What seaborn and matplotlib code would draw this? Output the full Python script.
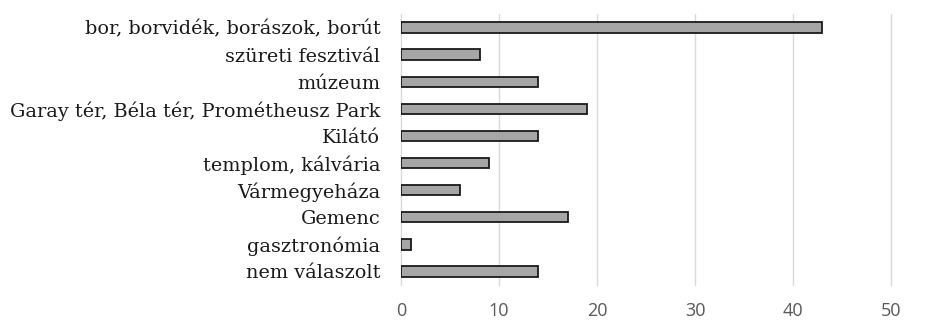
import matplotlib
matplotlib.use("Agg")
import matplotlib.pyplot as plt
import seaborn as sns
import pandas as pd

categories = [
    "bor, borvidék, borászok, borút",
    "szüreti fesztivál",
    "múzeum",
    "Garay tér, Béla tér, Prométheusz Park",
    "Kilátó",
    "templom, kálvária",
    "Vármegyeháza",
    "Gemenc",
    "gasztronómia",
    "nem válaszolt",
]
counts = [43, 8, 14, 19, 14, 9, 6, 17, 1, 14]
x_ticks = [0, 10, 20, 30, 40, 50]

df = pd.DataFrame({"category": categories, "count": counts})

sns.set_theme(style="white")
fig = plt.figure(figsize=(9.33, 3.25), dpi=100)
ax = fig.add_axes([0.43, 0.123, 0.525, 0.834])

sns.barplot(data=df, x="count", y="category", orient="h", ax=ax,
            color="#a6a6a6", saturation=1, width=0.38,
            edgecolor="#1a1a1a", linewidth=1.3)

ax.set_xlim(0, 50)
ax.set_ylim(9.5, -0.5)
ax.set_xticks(x_ticks)
ax.xaxis.grid(True, color="#d9d9d9", linewidth=1)
for gl in ax.xaxis.get_gridlines():
    gl.set_clip_on(False)
ax.set_axisbelow(True)
for s in ax.spines.values():
    s.set_visible(False)
ax.set_xlabel("")
ax.set_ylabel("")
ax.tick_params(axis="both", length=0)
ax.tick_params(axis="x", pad=12, labelsize=13, labelcolor="#595959")
ax.tick_params(axis="y", pad=15)
for lab in ax.get_xticklabels():
    lab.set_family("Open Sans")
for lab in ax.get_yticklabels():
    lab.set_family("DejaVu Serif")
    lab.set_fontsize(13.9)
    lab.set_color("#1a1a1a")

fig.savefig("out.png", dpi=100)
